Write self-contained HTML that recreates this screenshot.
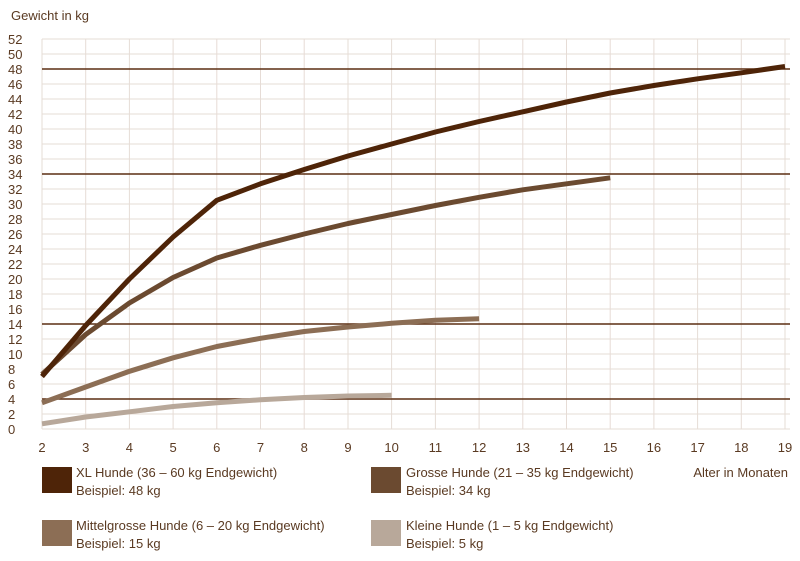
<!DOCTYPE html><html><head><meta charset="utf-8"><style>body{margin:0;background:#fff}svg{display:block;font-family:"Liberation Sans",sans-serif}</style></head><body>
<svg width="800" height="561" viewBox="0 0 800 561" xmlns="http://www.w3.org/2000/svg">
<g stroke="#e6dcd6" stroke-width="1">
<line x1="42" x2="790" y1="429" y2="429"/><line x1="42" x2="790" y1="414" y2="414"/><line x1="42" x2="790" y1="399" y2="399"/><line x1="42" x2="790" y1="384" y2="384"/><line x1="42" x2="790" y1="369" y2="369"/><line x1="42" x2="790" y1="354" y2="354"/><line x1="42" x2="790" y1="339" y2="339"/><line x1="42" x2="790" y1="324" y2="324"/><line x1="42" x2="790" y1="309" y2="309"/><line x1="42" x2="790" y1="294" y2="294"/><line x1="42" x2="790" y1="279" y2="279"/><line x1="42" x2="790" y1="264" y2="264"/><line x1="42" x2="790" y1="249" y2="249"/><line x1="42" x2="790" y1="234" y2="234"/><line x1="42" x2="790" y1="219" y2="219"/><line x1="42" x2="790" y1="204" y2="204"/><line x1="42" x2="790" y1="189" y2="189"/><line x1="42" x2="790" y1="174" y2="174"/><line x1="42" x2="790" y1="159" y2="159"/><line x1="42" x2="790" y1="144" y2="144"/><line x1="42" x2="790" y1="129" y2="129"/><line x1="42" x2="790" y1="114" y2="114"/><line x1="42" x2="790" y1="99" y2="99"/><line x1="42" x2="790" y1="84" y2="84"/><line x1="42" x2="790" y1="69" y2="69"/><line x1="42" x2="790" y1="54" y2="54"/><line x1="42" x2="790" y1="39" y2="39"/>
<line x1="42" x2="42" y1="39" y2="429"/><line x1="85.7" x2="85.7" y1="39" y2="429"/><line x1="129.4" x2="129.4" y1="39" y2="429"/><line x1="173.1" x2="173.1" y1="39" y2="429"/><line x1="216.8" x2="216.8" y1="39" y2="429"/><line x1="260.5" x2="260.5" y1="39" y2="429"/><line x1="304.2" x2="304.2" y1="39" y2="429"/><line x1="348" x2="348" y1="39" y2="429"/><line x1="391.6" x2="391.6" y1="39" y2="429"/><line x1="435.4" x2="435.4" y1="39" y2="429"/><line x1="479.1" x2="479.1" y1="39" y2="429"/><line x1="522.8" x2="522.8" y1="39" y2="429"/><line x1="566.5" x2="566.5" y1="39" y2="429"/><line x1="610.2" x2="610.2" y1="39" y2="429"/><line x1="653.9" x2="653.9" y1="39" y2="429"/><line x1="697.6" x2="697.6" y1="39" y2="429"/><line x1="741.3" x2="741.3" y1="39" y2="429"/><line x1="785" x2="785" y1="39" y2="429"/>
</g>
<g fill="#5a3a22" font-size="13">
<text x="8" y="434">0</text><text x="8" y="419">2</text><text x="8" y="404">4</text><text x="8" y="389">6</text><text x="8" y="374">8</text><text x="8" y="359">10</text><text x="8" y="344">12</text><text x="8" y="329">14</text><text x="8" y="314">16</text><text x="8" y="299">18</text><text x="8" y="284">20</text><text x="8" y="269">22</text><text x="8" y="254">24</text><text x="8" y="239">26</text><text x="8" y="224">28</text><text x="8" y="209">30</text><text x="8" y="194">32</text><text x="8" y="179">34</text><text x="8" y="164">36</text><text x="8" y="149">38</text><text x="8" y="134">40</text><text x="8" y="119">42</text><text x="8" y="104">44</text><text x="8" y="89">46</text><text x="8" y="74">48</text><text x="8" y="59">50</text><text x="8" y="44">52</text>
</g>
<g fill="#5a3a22" font-size="13" text-anchor="middle">
<text x="42" y="452">2</text><text x="85.7" y="452">3</text><text x="129.4" y="452">4</text><text x="173.1" y="452">5</text><text x="216.8" y="452">6</text><text x="260.5" y="452">7</text><text x="304.2" y="452">8</text><text x="348" y="452">9</text><text x="391.6" y="452">10</text><text x="435.4" y="452">11</text><text x="479.1" y="452">12</text><text x="522.8" y="452">13</text><text x="566.5" y="452">14</text><text x="610.2" y="452">15</text><text x="653.9" y="452">16</text><text x="697.6" y="452">17</text><text x="741.3" y="452">18</text><text x="785" y="452">19</text>
</g>
<text x="11" y="20" fill="#5a3a22" font-size="13">Gewicht in kg</text>
<g stroke="#5c2e12" stroke-width="1.5">
<line x1="42" x2="790" y1="69" y2="69"/><line x1="42" x2="790" y1="174" y2="174"/><line x1="42" x2="790" y1="324" y2="324"/><line x1="42" x2="790" y1="399" y2="399"/></g>
<g fill="none" stroke-width="5" stroke-linejoin="round">
<polyline stroke="#b8a89a" points="42,423.8 85.7,417 129.4,411.8 173.1,406.5 216.8,402.8 260.5,399.8 304.2,397.5 348,396 391.6,395.3"/>
<polyline stroke="#8c6e55" points="42,402.8 85.7,387 129.4,371.3 173.1,357.8 216.8,346.5 260.5,338.3 304.2,331.5 348,327 391.6,323.3 435.4,320.3 479.1,318.8"/>
<polyline stroke="#6b4a30" points="42,374.3 85.7,334.5 129.4,303 173.1,277.5 216.8,258 260.5,245.3 304.2,234 348,223.5 391.6,214.5 435.4,205.5 479.1,197.3 522.8,189.8 566.5,183.8 610.2,177.8"/>
<polyline stroke="#4e2408" points="42,376.5 85.7,325.5 129.4,279 173.1,237 216.8,200.3 260.5,183.8 304.2,169.5 348,156 391.6,144 435.4,132 479.1,121.5 522.8,111.8 566.5,102 610.2,93 653.9,85.5 697.6,78.8 741.3,72.8 785,66.5"/>
</g>
<g font-size="13" fill="#5a3a22">
<rect x="42" y="467" width="30" height="26" fill="#4e2408"/><text x="76" y="477">XL Hunde (36 – 60 kg Endgewicht)</text><text x="76" y="495">Beispiel: 48 kg</text>
<rect x="371" y="467" width="30" height="26" fill="#6b4a30"/><text x="406" y="477">Grosse Hunde (21 – 35 kg Endgewicht)</text><text x="406" y="495">Beispiel: 34 kg</text>
<text x="788" y="477" text-anchor="end">Alter in Monaten</text>
<rect x="42" y="520" width="30" height="26" fill="#8c6e55"/><text x="76" y="530">Mittelgrosse Hunde (6 – 20 kg Endgewicht)</text><text x="76" y="548">Beispiel: 15 kg</text>
<rect x="371" y="520" width="30" height="26" fill="#b8a89a"/><text x="406" y="530">Kleine Hunde (1 – 5 kg Endgewicht)</text><text x="406" y="548">Beispiel: 5 kg</text>
</g>
</svg></body></html>
